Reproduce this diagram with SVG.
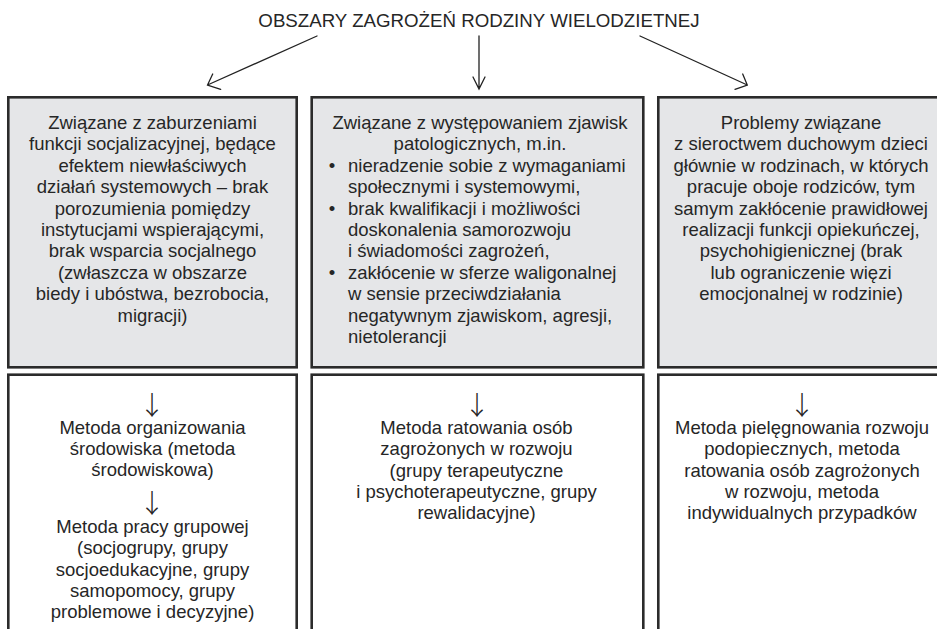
<svg xmlns="http://www.w3.org/2000/svg" width="937" height="629" viewBox="0 0 937 629">
  <style>
    text { font-family: "Liberation Sans", Arial, sans-serif; font-size: 18.5px; fill: #262626; }
    .c { text-anchor: middle; }
    .arr { font-family: "Noto Sans CJK SC", "Liberation Sans", sans-serif; font-size: 26px; font-weight: 200; text-anchor: middle; }
    .top { fill: #e5e6e8; stroke: #2b2b2b; stroke-width: 2.6; }
    .bot { fill: #ffffff; stroke: #2b2b2b; stroke-width: 2.6; }
    .conn { stroke: #222; stroke-width: 1.3; fill: none; stroke-linecap: round; }
  </style>
  <rect width="937" height="629" fill="#ffffff"/>

  <g id="title">
    <text class="c" x="479" y="26.5" style="font-size:18.7px">OBSZARY ZAGROŻEŃ RODZINY WIELODZIETNEJ</text>
  </g>

  <g id="connectors">
    <path class="conn" d="M317,36 L207.5,85 M212.7,74 L207.5,85 L220.7,89.3"/>
    <path class="conn" d="M479,36 L479,89 M473,77 L479,89 L485,77"/>
    <path class="conn" d="M640,36 L747.3,85 M742.7,74 L747.3,85 L735,89.3"/>
  </g>

  <g id="area1">
    <rect class="top" x="8.3" y="97.3" width="288.4" height="270"/>
    <text class="c" x="152.5" y="129">Związane z zaburzeniami</text>
    <text class="c" x="152.5" y="150.4">funkcji socjalizacyjnej, będące</text>
    <text class="c" x="152.5" y="171.8">efektem niewłaściwych</text>
    <text class="c" x="152.5" y="193.2">działań systemowych – brak</text>
    <text class="c" x="152.5" y="214.6">porozumienia pomiędzy</text>
    <text class="c" x="152.5" y="236">instytucjami wspierającymi,</text>
    <text class="c" x="152.5" y="257.4">brak wsparcia socjalnego</text>
    <text class="c" x="152.5" y="278.8">(zwłaszcza w obszarze</text>
    <text class="c" x="152.5" y="300.2">biedy i ubóstwa, bezrobocia,</text>
    <text class="c" x="152.5" y="321.6">migracji)</text>
  </g>

  <g id="area2">
    <rect class="top" x="311.7" y="97.3" width="331.6" height="270"/>
    <text class="c" x="480" y="129">Związane z występowaniem zjawisk</text>
    <text class="c" x="480" y="150.4">patologicznych, m.in.</text>
    <text class="c" x="332" y="171.8">•</text>
    <text x="348" y="171.8">nieradzenie sobie z wymaganiami</text>
    <text x="348" y="193.2">społecznymi i systemowymi,</text>
    <text class="c" x="332" y="214.6">•</text>
    <text x="348" y="214.6">brak kwalifikacji i możliwości</text>
    <text x="348" y="236">doskonalenia samorozwoju</text>
    <text x="348" y="257.4">i świadomości zagrożeń,</text>
    <text class="c" x="332" y="278.8">•</text>
    <text x="348" y="278.8">zakłócenie w sferze waligonalnej</text>
    <text x="348" y="300.2">w sensie przeciwdziałania</text>
    <text x="348" y="321.6">negatywnym zjawiskom, agresji,</text>
    <text x="348" y="343">nietolerancji</text>
  </g>

  <g id="area3">
    <rect class="top" x="658.3" y="97.3" width="288" height="270"/>
    <text class="c" x="801" y="129">Problemy związane</text>
    <text class="c" x="801" y="150.4">z sieroctwem duchowym dzieci</text>
    <text class="c" x="801" y="171.8">głównie w rodzinach, w których</text>
    <text class="c" x="801" y="193.2">pracuje oboje rodziców, tym</text>
    <text class="c" x="801" y="214.6">samym zakłócenie prawidłowej</text>
    <text class="c" x="801" y="236">realizacji funkcji opiekuńczej,</text>
    <text class="c" x="801" y="257.4">psychohigienicznej (brak</text>
    <text class="c" x="801" y="278.8">lub ograniczenie więzi</text>
    <text class="c" x="801" y="300.2">emocjonalnej w rodzinie)</text>
  </g>

  <g id="method1">
    <rect class="bot" x="8.3" y="374.7" width="288.4" height="270"/>
    <text class="arr" x="152" y="414.5">↓</text>
    <text class="c" x="152.5" y="434">Metoda organizowania</text>
    <text class="c" x="152.5" y="455">środowiska (metoda</text>
    <text class="c" x="152.5" y="476">środowiskowa)</text>
    <text class="arr" x="152" y="513">↓</text>
    <text class="c" x="152.5" y="533">Metoda pracy grupowej</text>
    <text class="c" x="152.5" y="554.3">(socjogrupy, grupy</text>
    <text class="c" x="152.5" y="575.6">socjoedukacyjne, grupy</text>
    <text class="c" x="152.5" y="596.9">samopomocy, grupy</text>
    <text class="c" x="152.5" y="618.2">problemowe i decyzyjne)</text>
  </g>

  <g id="method2">
    <rect class="bot" x="311.7" y="374.7" width="331.6" height="270"/>
    <text class="arr" x="477" y="414.5">↓</text>
    <text class="c" x="476.5" y="434">Metoda ratowania osób</text>
    <text class="c" x="476.5" y="455.3">zagrożonych w rozwoju</text>
    <text class="c" x="476.5" y="476.6">(grupy terapeutyczne</text>
    <text class="c" x="476.5" y="497.9">i psychoterapeutyczne, grupy</text>
    <text class="c" x="476.5" y="519.2">rewalidacyjne)</text>
  </g>

  <g id="method3">
    <rect class="bot" x="658.3" y="374.7" width="288" height="270"/>
    <text class="arr" x="802" y="414.5">↓</text>
    <text class="c" x="802" y="434">Metoda pielęgnowania rozwoju</text>
    <text class="c" x="802" y="455.3">podopiecznych, metoda</text>
    <text class="c" x="802" y="476.6">ratowania osób zagrożonych</text>
    <text class="c" x="802" y="497.9">w rozwoju, metoda</text>
    <text class="c" x="802" y="519.2">indywidualnych przypadków</text>
  </g>
</svg>
